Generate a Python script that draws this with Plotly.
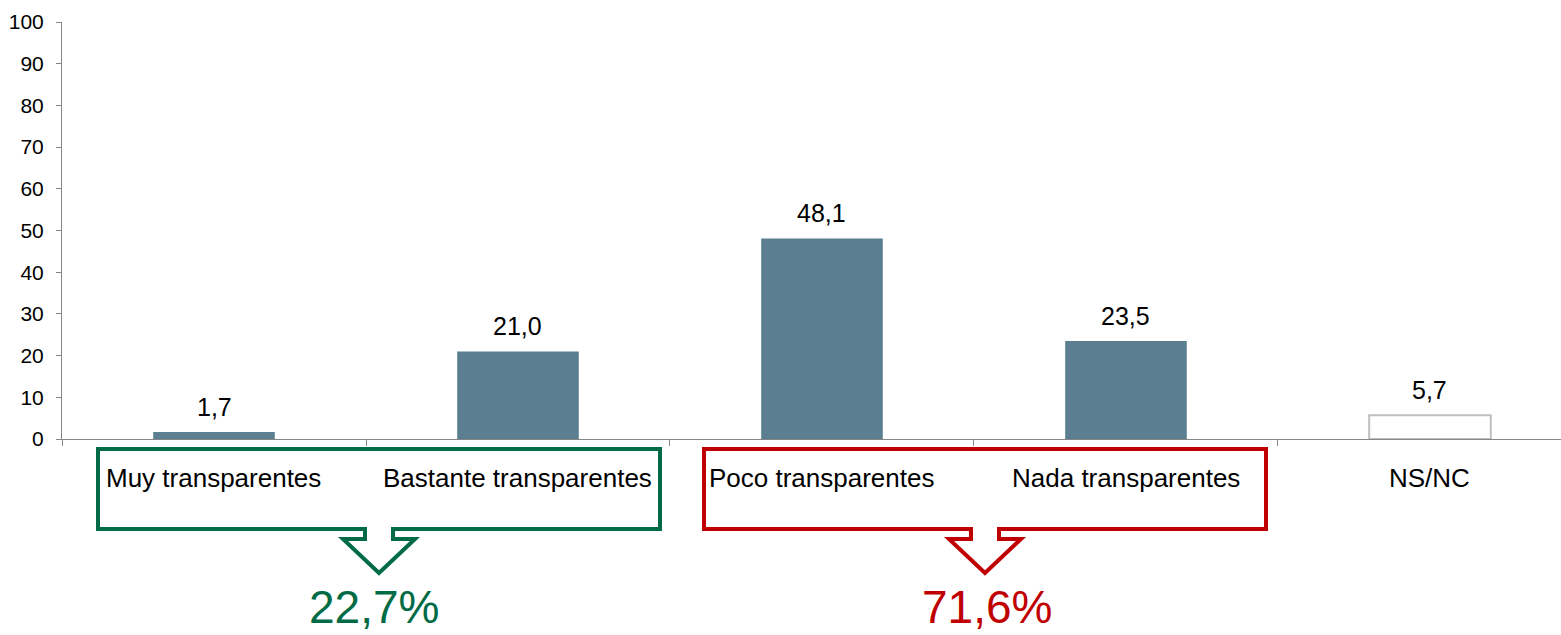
import plotly.graph_objects as go

categories = ["Muy transparentes", "Bastante transparentes", "Poco transparentes", "Nada transparentes", "NS/NC"]
values = [1.7, 21.0, 48.1, 23.5, 5.7]
group_labels = ["22,7%", "71,6%"]
y_ticks = list(range(0, 101, 10))

W, H = 1561, 635
L, R, T, B = 62, 0, 22, 196
plot_w = W - L - R
plot_h = H - T - B
x_range = [-0.5, 4.431]

BAR = "#5B7E91"
GREEN = "#006B45"
RED = "#C00000"
AXIS = "#868686"
FONT = "Liberation Sans, Arial, sans-serif"


def px_x(px):
    return (px - L) / plot_w


def px_y(py):
    return (H - B - py) / plot_h


fills = [BAR, BAR, BAR, BAR, "white"]
lines = [BAR, BAR, BAR, BAR, "#BFBFBF"]
lwidths = [0, 0, 0, 0, 2]

fig = go.Figure(go.Bar(
    x=categories, y=values,
    marker=dict(color=fills, line=dict(color=lines, width=lwidths)),
    width=0.4,
    cliponaxis=False,
))

# value labels above bars (data coordinates)
for c, v in zip(categories, values):
    fig.add_annotation(x=c, y=v, xref="x", yref="y", text=f"{v:.1f}".replace(".", ","),
                       showarrow=False, yanchor="bottom", yshift=9,
                       font=dict(size=25, color="black", family=FONT))

# category labels
for idx, c in enumerate(categories):
    xp = (idx - x_range[0]) / (x_range[1] - x_range[0])
    fig.add_annotation(x=xp, y=px_y(478), xref="paper", yref="paper", text=c,
                       showarrow=False, font=dict(size=26, color="black", family=FONT),
                       xanchor="center", yanchor="middle")


def callout(x0, x1, cx, color):
    yt, yb, ys, ytip = 449, 529, 539, 573
    sw, hw = 14, 36
    pts = [(x0, yt), (x1, yt), (x1, yb), (cx + sw, yb), (cx + sw, ys), (cx + hw, ys),
           (cx, ytip), (cx - hw, ys), (cx - sw, ys), (cx - sw, yb), (x0, yb)]
    path = "M " + " L ".join(f"{px_x(a):.5f},{px_y(b):.5f}" for a, b in pts) + " Z"
    fig.add_shape(type="path", path=path, xref="paper", yref="paper",
                  line=dict(color=color, width=4), fillcolor="rgba(0,0,0,0)")


callout(98, 660, 379, GREEN)
callout(704, 1266, 985, RED)

fig.add_annotation(x=px_x(374), y=px_y(607), xref="paper", yref="paper", text=group_labels[0],
                   showarrow=False, xanchor="center", yanchor="middle",
                   font=dict(size=46, color=GREEN, family=FONT))
fig.add_annotation(x=px_x(987), y=px_y(607), xref="paper", yref="paper", text=group_labels[1],
                   showarrow=False, xanchor="center", yanchor="middle",
                   font=dict(size=46, color=RED, family=FONT))

fig.update_layout(
    width=W, height=H,
    margin=dict(l=L, r=R, t=T, b=B),
    plot_bgcolor="white", paper_bgcolor="white",
    separators=",.",
    showlegend=False,
    font=dict(family=FONT, color="black"),
    xaxis=dict(range=x_range, showticklabels=False, showline=True, linecolor=AXIS, linewidth=1,
               ticks="outside", tickson="boundaries", ticklen=6, tickcolor=AXIS,
               showgrid=False, zeroline=False, fixedrange=True),
    yaxis=dict(range=[0, 100], tickvals=y_ticks, showline=True, linecolor=AXIS, linewidth=1,
               ticks="outside", ticklen=5, tickcolor=AXIS, showgrid=False, zeroline=False,
               ticklabelstandoff=8,
               tickfont=dict(size=21, color="black", family=FONT), fixedrange=True),
)

fig.write_html("out.html", config={"displayModeBar": False},
               post_script="document.body.style.margin='0px';")
